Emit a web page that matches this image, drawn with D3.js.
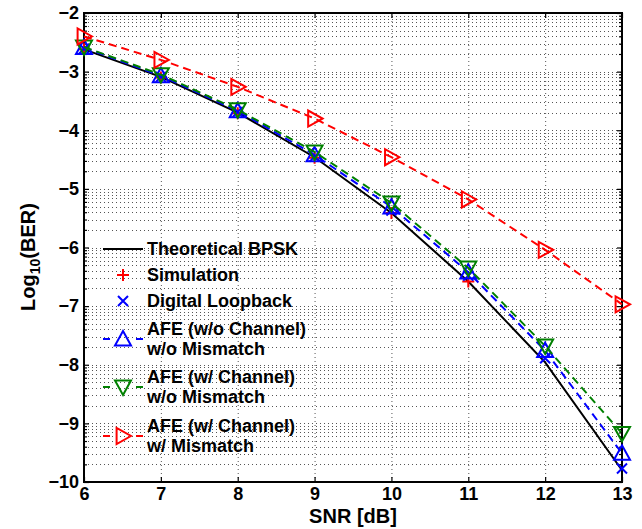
<!DOCTYPE html>
<html><head><meta charset="utf-8">
<script src="https://cdn.jsdelivr.net/npm/d3@7"></script>
<style>
html,body{margin:0;padding:0;background:#fff;}
text{font-family:"Liberation Sans",Arial,Helvetica,sans-serif;font-weight:bold;}
</style></head>
<body><svg id="chart" width="642" height="529"></svg>
<script>
// ---- data (log10 BER) ----
const snr = [6, 7, 8, 9, 10, 11, 12, 13];
const theoryBPSK   = [-2.62, -3.09, -3.70, -4.46, -5.41, -6.58, -7.96, -9.80];
const simulation   = [-2.62, -3.10, -3.71, -4.47, -5.41, -6.58];
const loopback     = [-2.61, -3.09, -3.69, -4.45, -5.37, -6.48, -7.89, -9.77];
const afeNoChan    = [-2.59, -3.07, -3.67, -4.42, -5.31, -6.42, -7.76, -9.51];
const afeChan      = [-2.58, -3.05, -3.65, -4.37, -5.24, -6.35, -7.68, -9.17];
const afeMismatch  = [-2.40, -2.80, -3.26, -3.80, -4.46, -5.18, -6.04, -6.97];
const xTicks = [6, 7, 8, 9, 10, 11, 12, 13];
const yTicks = [-10, -9, -8, -7, -6, -5, -4, -3, -2];
const legendLabels = [
  ["Theoretical BPSK"],
  ["Simulation"],
  ["Digital Loopback"],
  ["AFE (w/o Channel)", "w/o Mismatch"],
  ["AFE (w/ Channel)", "w/o Mismatch"],
  ["AFE (w/ Channel)", "w/ Mismatch"]
];

// ---- layout ----
const L = 84, R = 622, T = 13, B = 482;
const svg = d3.select("#chart");
const x = d3.scaleLinear().domain([6, 13]).range([L, R]);
const y = d3.scaleLinear().domain([-10, -2]).range([B, T]);

// minor (log) positions
const minor = [];
for (let d = -10; d < -2; d++) for (let m = 2; m <= 9; m++) minor.push(d + Math.log10(m));

// grid
const grid = svg.append("g").attr("stroke", "#555").attr("stroke-width", 1).attr("stroke-dasharray", "1,3");
grid.selectAll("line.gx").data(xTicks.slice(1, -1)).join("line")
  .attr("x1", d => x(d) + 0.5).attr("x2", d => x(d) + 0.5).attr("y1", T).attr("y2", B);
grid.selectAll("line.gy").data(yTicks.slice(1, -1).concat(minor)).join("line")
  .attr("y1", d => Math.round(y(d)) + 0.5).attr("y2", d => Math.round(y(d)) + 0.5).attr("x1", L).attr("x2", R);

// axes
function styleAxis(g, labels) {
  g.select(".domain").remove();
  g.selectAll(".tick line").attr("stroke", "#000").attr("stroke-width", 1.2);
  if (!labels) g.selectAll(".tick text").remove();
  else g.selectAll(".tick text").attr("fill", "#000").style("font-size", "18px");
}
svg.append("g").attr("transform", `translate(0,${B})`)
  .call(d3.axisBottom(x).tickValues(xTicks).tickSize(-5).tickPadding(5).tickFormat(d3.format("d")))
  .call(g => styleAxis(g, true));
svg.append("g").attr("transform", `translate(0,${T})`)
  .call(d3.axisTop(x).tickValues(xTicks).tickSize(-5))
  .call(g => styleAxis(g, false));
svg.append("g").attr("transform", `translate(${L},0)`)
  .call(d3.axisLeft(y).tickValues(yTicks).tickSize(-5).tickPadding(5).tickFormat(d3.format("d")))
  .call(g => styleAxis(g, true));
svg.append("g").attr("transform", `translate(${L},0)`)
  .call(d3.axisLeft(y).tickValues(minor).tickSize(-3))
  .call(g => styleAxis(g, false));
svg.append("g").attr("transform", `translate(${R},0)`)
  .call(d3.axisRight(y).tickValues(yTicks).tickSize(-5))
  .call(g => styleAxis(g, false));
svg.append("g").attr("transform", `translate(${R},0)`)
  .call(d3.axisRight(y).tickValues(minor).tickSize(-3))
  .call(g => styleAxis(g, false));

// frame
svg.append("rect").attr("x", L).attr("y", T).attr("width", R - L).attr("height", B - T)
  .attr("fill", "none").attr("stroke", "#000").attr("stroke-width", 2);

// titles
svg.append("text").attr("x", (L + R) / 2).attr("y", 523).attr("text-anchor", "middle")
  .style("font-size", "20px").text("SNR [dB]");
const yt = svg.append("text").attr("transform", "translate(35,257) rotate(-90)")
  .attr("text-anchor", "middle").style("font-size", "20px");
yt.append("tspan").text("Log");
yt.append("tspan").attr("dy", 5).style("font-size", "14px").text("10");
yt.append("tspan").attr("dy", -5).text("(BER)");

// marker drawing
const S = 8; // half-size of triangles
function marker(g, type, color) {
  const p = g.append("path").attr("fill", "none").attr("stroke", color).attr("stroke-width", 2);
  if (type === "plus") p.attr("d", "M-6,0H6M0,-6V6");
  else if (type === "x") p.attr("d", "M-5,-5L5,5M-5,5L5,-5");
  else if (type === "up") p.attr("d", `M0,${-S}L${S},${S*0.8}L${-S},${S*0.8}Z`);
  else if (type === "down") p.attr("d", `M0,${S}L${S},${-S*0.8}L${-S},${-S*0.8}Z`);
  else if (type === "right") p.attr("d", `M${S},0L${-S*0.8},${S}L${-S*0.8},${-S}Z`);
}

const series = [
  {vals: theoryBPSK, color: "#000", dash: null, marker: null, line: true},
  {vals: simulation, color: "#ff0000", dash: null, marker: "plus", line: false},
  {vals: loopback, color: "#0000ff", dash: null, marker: "x", line: false},
  {vals: afeNoChan, color: "#0000ff", dash: "8,5", marker: "up", line: true},
  {vals: afeChan, color: "#008000", dash: "8,5", marker: "down", line: true},
  {vals: afeMismatch, color: "#ff0000", dash: "8,5", marker: "right", line: true}
];
const lineGen = d3.line().x(d => x(d[0])).y(d => y(d[1]));
series.forEach(s => {
  const pts = s.vals.map((v, i) => [snr[i], v]);
  if (s.line) svg.append("path").datum(pts).attr("d", lineGen)
    .attr("fill", "none").attr("stroke", s.color).attr("stroke-width", 2)
    .attr("stroke-dasharray", s.dash);
  if (s.marker) pts.forEach(p => {
    const g = svg.append("g").attr("transform", `translate(${x(p[0])},${y(p[1])})`);
    marker(g, s.marker, s.color);
  });
});

// legend
const legY = [249, 275, 301, 339, 387, 436];
const lg = svg.append("g");
series.forEach((s, i) => {
  const cy = legY[i];
  if (s.line && !s.dash) lg.append("line").attr("x1", 103).attr("x2", 143).attr("y1", cy).attr("y2", cy)
    .attr("stroke", s.color).attr("stroke-width", 2);
  if (s.line && s.dash) [[103, 110], [136, 143]].forEach(seg =>
    lg.append("line").attr("x1", seg[0]).attr("x2", seg[1]).attr("y1", cy).attr("y2", cy)
      .attr("stroke", s.color).attr("stroke-width", 2));
  if (s.marker) marker(lg.append("g").attr("transform", `translate(123,${cy})`), s.marker, s.color);
  const lines = legendLabels[i];
  const t = lg.append("text").attr("x", 147).style("font-size", "18px").attr("fill", "#000");
  lines.forEach((ln, j) => {
    const off = lines.length === 1 ? 0 : (j === 0 ? -10 : 10);
    t.append("tspan").attr("x", 147).attr("y", cy + off).attr("dy", "0.35em").text(ln);
  });
});
</script></body></html>
